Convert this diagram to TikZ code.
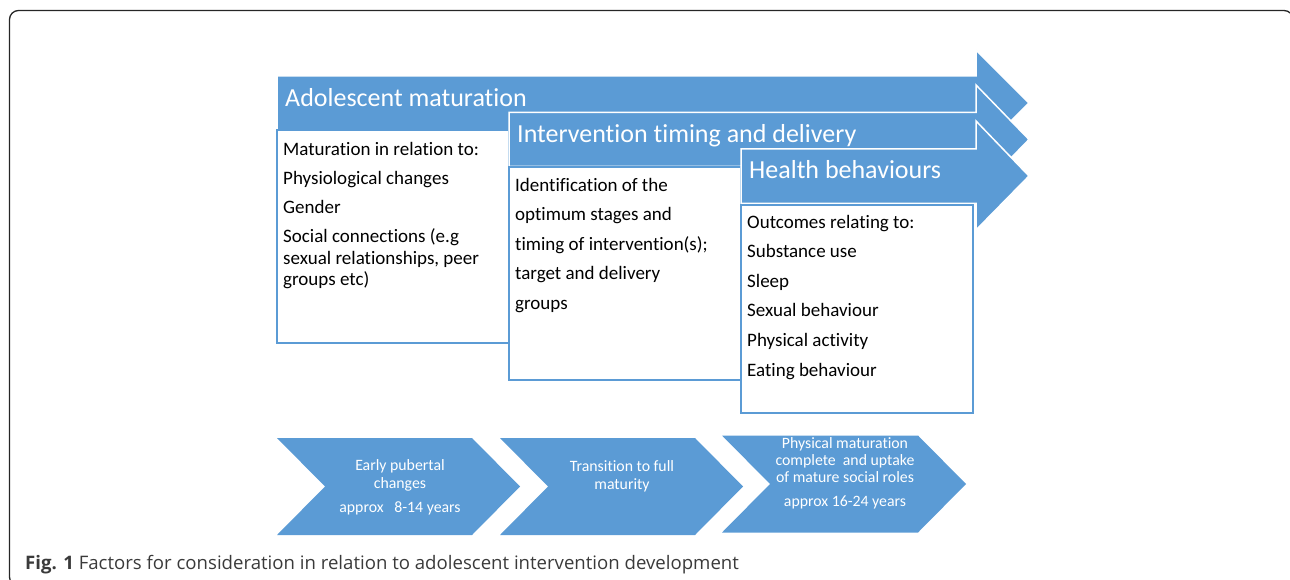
\documentclass[tikz,border=0pt]{standalone}
\usepackage{fontspec}
\setmainfont{Carlito}[Ligatures=NoCommon]
\newfontfamily\capfont{Open Sans}
\definecolor{offblue}{HTML}{5B9BD5}
\definecolor{captxt}{HTML}{3A3A3A}
\begin{document}
\begin{tikzpicture}[x=1pt,y=-1pt,
  bigarrow/.style={fill=offblue, draw=white, line width=1.5pt, line join=miter},
  infobox/.style={fill=white, draw=offblue, line width=1.5pt},
  chev/.style={fill=offblue, draw=none},
  titletext/.style={anchor=base west, inner sep=0pt, text=white, font=\fontsize{26}{31}\selectfont},
  boxline/.style={anchor=base west, inner sep=0pt, text=black, font=\fontsize{19}{22}\selectfont},
  chevline/.style={anchor=base, inner sep=0pt, text=white, font=\fontsize{15.8}{18}\selectfont},
]
\useasboundingbox (0,0) rectangle (1290,580);
% frame
\draw[line width=1.3pt, draw=black!85, rounded corners=9pt] (9.5,10.5) rectangle (1293,586);

% arrow 1 and box 1
\draw[bigarrow] (277,76) -- (976,76) -- (976,50) -- (1029,103) -- (976,156) -- (976,130) -- (277,130) -- cycle;
\node[titletext] (t1) at (285,106.5) {Adolescent maturation};
\draw[infobox] (277,130) rectangle (509,343);
\node[boxline] (a1) at (283,156) {Maturation in relation to:};
\node[boxline] (a2) at (283,185) {Physiological changes};
\node[boxline] (a3) at (283,214) {Gender};
\node[boxline] (a4) at (283,243) {Social connections (e.g};
\node[boxline] (a5) at (283,264) {sexual relationships, peer};
\node[boxline] (a6) at (283,285) {groups etc)};

% arrow 2 and box 2
\draw[bigarrow] (509,112.5) -- (976,112.5) -- (976,85) -- (1029,139.5) -- (976,194) -- (976,166.5) -- (509,166.5) -- cycle;
\node[titletext] (t2) at (517,142.5) {Intervention timing and delivery};
\draw[infobox] (509,167) rectangle (741,380);
\node[boxline] (b1) at (515,192) {Identification of the};
\node[boxline] (b2) at (515,221) {optimum stages and};
\node[boxline] (b3) at (515,250) {timing of intervention(s);};
\node[boxline] (b4) at (515,279) {target and delivery};
\node[boxline] (b5) at (515,309) {groups};

% arrow 3 and box 3
\draw[bigarrow] (741,149) -- (976,149) -- (976,121) -- (1029,176) -- (976,230) -- (976,203.5) -- (741,203.5) -- cycle;
\node[titletext] (t3) at (749,179) {Health behaviours};
\draw[infobox] (741,205) rectangle (973,413);
\node[boxline] (c1) at (747,229) {Outcomes relating to:};
\node[boxline] (c2) at (747,258) {Substance use};
\node[boxline] (c3) at (747,287) {Sleep};
\node[boxline] (c4) at (747,316) {Sexual behaviour};
\node[boxline] (c5) at (747,346) {Physical activity};
\node[boxline] (c6) at (747,376) {Eating behaviour};

% chevrons
\fill[chev] (277,438) -- (472,438) -- (520,486.5) -- (472,535) -- (277,535) -- (325,486.5) -- cycle;
\node[chevline] (d1) at (400,470) {Early pubertal};
\node[chevline] (d2) at (400,488) {changes};
\node[chevline] (d3) at (400,512) {approx\ \ \ 8-14 years};

\fill[chev] (500,438) -- (695,438) -- (743,486.5) -- (695,535) -- (500,535) -- (548,486.5) -- cycle;
\node[chevline] (e1) at (622,471) {Transition to full};
\node[chevline] (e2) at (622,489) {maturity};

\fill[chev] (722,435.5) -- (918,435.5) -- (966,484) -- (918,532.5) -- (722,532.5) -- (770,484) -- cycle;
\node[chevline] (f1) at (845,448) {Physical maturation};
\node[chevline] (f2) at (845,465) {complete\ \ and uptake};
\node[chevline] (f3) at (845,482) {of mature social roles};
\node[chevline] (f4) at (845,506) {approx 16-24 years};

% caption
\node[anchor=base west, inner sep=0pt, text=captxt, font=\capfont\fontsize{18.6}{22}\selectfont] (cap) at (25,569) {\textbf{Fig. 1} Factors for consideration in relation to adolescent intervention development};
\end{tikzpicture}
\end{document}
